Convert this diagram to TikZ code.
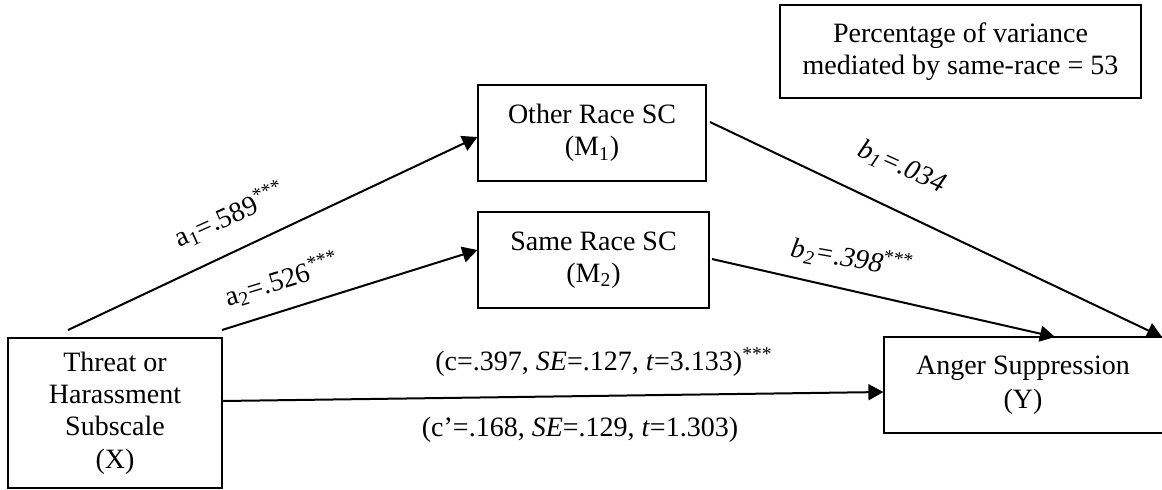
\documentclass[tikz,border=0pt]{standalone}
\usepackage{fontspec}
\setmainfont{Liberation Serif}
\usetikzlibrary{arrows.meta}
\begin{document}
\begin{tikzpicture}[x=0.5pt,y=-0.5pt,
  box/.style={draw, line width=0.6pt, align=center, inner sep=0pt, font=\fontsize{14}{16.2}\selectfont},
  lbl/.style={inner sep=0pt, font=\fontsize{14}{16.2}\selectfont},
  arr/.style={line width=1pt, -{Triangle[length=7.5pt,width=8pt]}}]
\clip (0,0) rectangle (1162,489);
% boxes
\node[box, minimum width=180.5pt, minimum height=46.5pt] (pct) at (960.5,51.5) {Percentage of variance\\mediated by same-race = 53};
\node[box, minimum width=114pt, minimum height=48pt] (M1) at (592,133) {Other Race SC\\(M\textsubscript{1})};
\node[box, minimum width=115.5pt, minimum height=48pt] (M2) at (593.5,260) {Same Race SC\\(M\textsubscript{2})};
\node[box, minimum width=107pt, minimum height=75pt] (X) at (115,413) {Threat or\\Harassment\\Subscale\\(X)};
\node[box, minimum width=152pt, minimum height=48pt] (Y) at (1036,385) {\raisebox{2pt}{\begin{tabular}{@{}c@{\hspace{13pt}}}Anger Suppression\\[0.8pt](Y)\end{tabular}}};
% free ends
\coordinate (a1s) at (68,330);
\coordinate (a2s) at (222,330);
\coordinate (b1s) at (710,122);
\coordinate (b2s) at (712,259);
\coordinate (b1e) at (1162,337);
\coordinate (b2e) at (1055,337);
\coordinate (cs) at (222,401);
% connectors
\draw[arr] (a1s) -- ([yshift=-2pt]M1.west);
\draw[arr] (a2s) -- ([yshift=5pt]M2.west);
\draw[arr] (b1s) -- (b1e);
\draw[arr] (b2s) -- (b2e);
\draw[arr] (cs) -- ([yshift=-3.5pt]Y.west);
% labels
\node[lbl, rotate=24] (la1) at (230,215) {a\textsubscript{1}=.589\textsuperscript{***}};
\node[lbl, rotate=17] (la2) at (282,280) {a\textsubscript{2}=.526\textsuperscript{***}};
\node[lbl, rotate=-24] (lb1) at (902,167) {\textit{b\textsubscript{1}=.034}};
\node[lbl, rotate=-10] (lb2) at (852,258) {\textit{b\textsubscript{2}=.398}\textsuperscript{***}};
\node[lbl] (lc) at (604,362) {(c=.397, \textit{SE}=.127, \textit{t}=3.133)\textsuperscript{***}};
\node[lbl] (lcp) at (580,430) {(c’=.168, \textit{SE}=.129, \textit{t}=1.303)};
\end{tikzpicture}
\end{document}
